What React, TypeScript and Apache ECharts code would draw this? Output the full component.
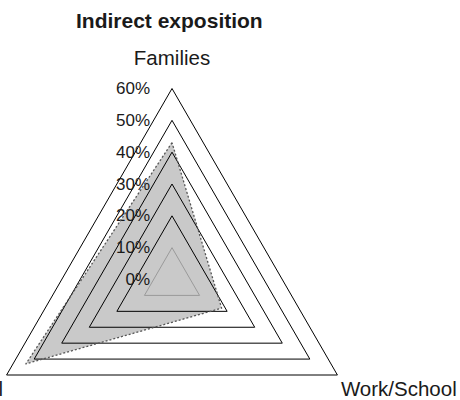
import React, { useEffect, useRef } from "react";
import * as echarts from "echarts";

const indicators = ["Families", "Social", "Work/School"];
const values = [43, 53, 18];
const ringColors = ["#000000", "#9a9a9a", "#000000", "#000000", "#000000", "#000000", "#000000"];
const axisMin = 0;
const axisMax = 60;
const splits = 6;

export default function App() {
  const ref = useRef<HTMLDivElement>(null);
  useEffect(() => {
    if (!ref.current) return;
    const chart = echarts.init(ref.current, null, { renderer: "svg" });
    const font = "Liberation Sans, Arial, sans-serif";
    chart.setOption({
      animation: false,
      title: {
        text: "Indirect exposition",
        left: 71,
        top: 5,
        textStyle: { fontFamily: font, fontSize: 21, fontWeight: "bold", color: "#1a1a1a" },
      },
      radar: {
        z: 2,
        center: [172, 279.5],
        radius: 191,
        startAngle: 90,
        shape: "polygon",
        splitNumber: splits,
        axisName: {
          color: "#1a1a1a",
          fontFamily: font,
          fontSize: 20.5,
          lineHeight: 22,
          formatter: (name: string) => (name === indicators[0] ? name : "\n" + name),
        },
        nameGap: 4,
        axisLine: { show: false },
        axisTick: { show: false },
        axisLabel: { show: false },
        splitArea: { show: false },
        splitLine: { lineStyle: { color: ringColors, width: 1 } },
        indicator: indicators.map((name, i) =>
          i === 0
            ? {
                name,
                min: axisMin,
                max: axisMax,
                nameGap: 20,
                axisLabel: {
                  show: true,
                  formatter: "{value}%",
                  margin: 22,
                  color: "#1a1a1a",
                  fontFamily: font,
                  fontSize: 17,
                  padding: [4, 0, 0, 0],
                },
              }
            : { name, min: axisMin, max: axisMax }
        ),
      },
      series: [
        {
          type: "radar",
          z: 1,
          symbol: "none",
          lineStyle: { width: 0, opacity: 0 },
          areaStyle: { color: "#c9c9c9", opacity: 1 },
          data: [{ value: values, name: "Indirect exposition" }],
        },
        {
          type: "radar",
          z: 3,
          symbol: "none",
          lineStyle: { color: "#555555", width: 1.3, type: [2, 2] },
          data: [{ value: values, name: "Indirect exposition" }],
        },
      ],
    });
    return () => chart.dispose();
  }, []);
  return (
    <div
      ref={ref}
      style={{ position: "fixed", left: 0, top: 0, width: 460, height: 400, background: "#fff" }}
    />
  );
}
